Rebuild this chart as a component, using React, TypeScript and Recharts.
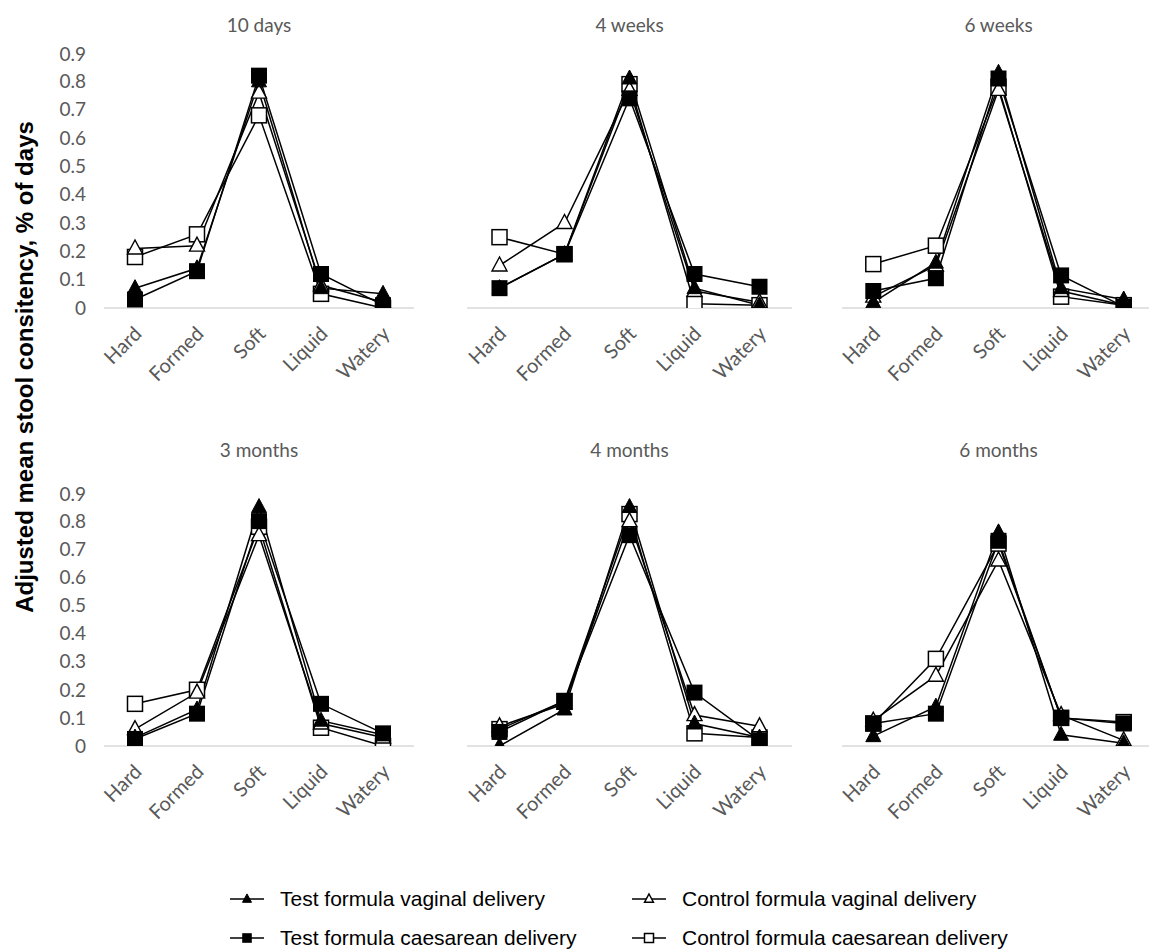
import { LineChart, Line, XAxis, YAxis } from 'recharts';

// Stool consistency categories shown on every panel
const CATEGORIES = ['Hard', 'Formed', 'Soft', 'Liquid', 'Watery'];
const PANEL_TITLES = ['10 days', '4 weeks', '6 weeks', '3 months', '4 months', '6 months'];
const Y_TICKS = [0, 0.1, 0.2, 0.3, 0.4, 0.5, 0.6, 0.7, 0.8, 0.9];

// One row per panel (same order as PANEL_TITLES), one value per category
const TEST_VAGINAL = [
  [0.07, 0.14, 0.8, 0.07, 0.05],
  [0.07, 0.19, 0.81, 0.07, 0.01],
  [0.02, 0.16, 0.83, 0.07, 0.03],
  [0.03, 0.13, 0.85, 0.09, 0.04],
  [0.0, 0.13, 0.85, 0.08, 0.03],
  [0.035, 0.14, 0.76, 0.04, 0.01],
];
const CONTROL_VAGINAL = [
  [0.21, 0.22, 0.76, 0.08, 0.02],
  [0.15, 0.3, 0.77, 0.06, 0.02],
  [0.04, 0.15, 0.77, 0.06, 0.01],
  [0.06, 0.19, 0.75, 0.08, 0.03],
  [0.07, 0.15, 0.8, 0.11, 0.07],
  [0.09, 0.25, 0.66, 0.11, 0.02],
];
const TEST_CAESAREAN = [
  [0.03, 0.13, 0.82, 0.12, 0.01],
  [0.07, 0.19, 0.74, 0.12, 0.075],
  [0.06, 0.105, 0.81, 0.115, 0.005],
  [0.025, 0.115, 0.8, 0.15, 0.045],
  [0.05, 0.16, 0.75, 0.19, 0.02],
  [0.08, 0.115, 0.73, 0.1, 0.08],
];
const CONTROL_CAESAREAN = [
  [0.18, 0.26, 0.68, 0.05, 0.0],
  [0.25, 0.19, 0.79, 0.015, 0.01],
  [0.155, 0.22, 0.78, 0.04, 0.01],
  [0.15, 0.2, 0.78, 0.065, 0.0],
  [0.06, 0.16, 0.825, 0.045, 0.03],
  [0.08, 0.31, 0.72, 0.1, 0.085],
];

const GREY = '#595959';
const TICK_FONT = 'Lato, "Open Sans", sans-serif';
const LEGEND_FONT = '"Liberation Sans", Arial, sans-serif';

// plot-area rectangles for the 2x3 grid
const COL_X = [
  { x: 104, w: 310 },
  { x: 467, w: 325 },
  { x: 842, w: 313 },
];
const ROW_Y = [
  { y: 53, h: 255, title: 25 },
  { y: 493, h: 253, title: 450 },
];

type Marker = 'triFilled' | 'triOpen' | 'sqFilled' | 'sqOpen';

function MarkerShape({ kind, cx, cy, scale = 1 }: { kind: Marker; cx: number; cy: number; scale?: number }) {
  if (cx == null || cy == null) return null;
  if (kind === 'triFilled' || kind === 'triOpen') {
    const hw = 7.5 * scale;
    const top = 8.5 * scale;
    const bot = 5.5 * scale;
    const pts = `${cx},${cy - top} ${cx - hw},${cy + bot} ${cx + hw},${cy + bot}`;
    return kind === 'triFilled' ? (
      <polygon points={pts} fill="#000" stroke="#000" strokeWidth={1} />
    ) : (
      <polygon points={pts} fill="#fff" stroke="#000" strokeWidth={1.4} strokeLinejoin="miter" />
    );
  }
  const s = (kind === 'sqFilled' ? 16 : 15) * scale;
  return kind === 'sqFilled' ? (
    <rect x={cx - s / 2} y={cy - s / 2} width={s} height={s} fill="#000" />
  ) : (
    <rect x={cx - s / 2} y={cy - s / 2} width={s} height={s} fill="#fff" stroke="#000" strokeWidth={1.5} />
  );
}

const makeDot = (kind: Marker) => (props: any) =>
  <MarkerShape key={`${kind}-${props.index}`} kind={kind} cx={props.cx} cy={props.cy} />;

function XTick(props: any) {
  const { x, y, payload } = props;
  const ax = x + 8;
  const ay = y + 27;
  return (
    <text
      x={ax}
      y={ay}
      textAnchor="end"
      fill={GREY}
      fontSize={20}
      fontFamily={TICK_FONT}
      transform={`rotate(-45, ${ax}, ${ay})`}
    >
      {payload.value}
    </text>
  );
}

// drawing order: open markers underneath, filled ones on top
const SERIES: { key: string; source: number[][]; marker: Marker }[] = [
  { key: 'cc', source: CONTROL_CAESAREAN, marker: 'sqOpen' },
  { key: 'cv', source: CONTROL_VAGINAL, marker: 'triOpen' },
  { key: 'tv', source: TEST_VAGINAL, marker: 'triFilled' },
  { key: 'tc', source: TEST_CAESAREAN, marker: 'sqFilled' },
];

function Panel({ index }: { index: number }) {
  const col = COL_X[index % 3];
  const row = ROW_Y[Math.floor(index / 3)];
  const showY = index % 3 === 0;
  const data = CATEGORIES.map((name, i) => {
    const rec: Record<string, any> = { name };
    SERIES.forEach((s) => (rec[s.key] = s.source[index][i]));
    return rec;
  });
  const yAxisW = 60;
  // half a category band on each side, like a category axis with tick marks between
  const pad = col.w / CATEGORIES.length / 2;
  return (
    <>
      <div
        style={{
          position: 'absolute',
          left: col.x + col.w / 2 - 100,
          top: row.title - 12,
          width: 200,
          textAlign: 'center',
          fontFamily: TICK_FONT,
          fontSize: 19,
          lineHeight: '24px',
          color: GREY,
        }}
      >
        {PANEL_TITLES[index]}
      </div>
      <div style={{ position: 'absolute', left: col.x - yAxisW, top: row.y - 10 }}>
        <LineChart
          width={col.w + yAxisW + 5}
          height={row.h + 10 + 90}
          data={data}
          margin={{ top: 10, right: 5, left: 0, bottom: 0 }}
        >
          <XAxis
            dataKey="name"
            height={90}
            interval={0}
            padding={{ left: pad, right: pad }}
            tickLine={false}
            tickSize={0}
            tickMargin={0}
            axisLine={{ stroke: '#d9d9d9', strokeWidth: 1.5 }}
            tick={<XTick />}
          />
          <YAxis
            width={yAxisW}
            domain={[0, 0.9]}
            ticks={Y_TICKS}
            allowDataOverflow
            axisLine={false}
            tickLine={false}
            tickSize={0}
            tickMargin={18}
            tick={showY ? { fill: GREY, fontSize: 19, fontFamily: TICK_FONT } : false}
            tickFormatter={(v: number) => String(+v.toFixed(1))}
          />
          {SERIES.map((s) => (
            <Line
              key={s.key}
              dataKey={s.key}
              type="linear"
              stroke="#000"
              strokeWidth={1.5}
              dot={makeDot(s.marker)}
              activeDot={false}
              isAnimationActive={false}
            />
          ))}
        </LineChart>
      </div>
    </>
  );
}

const LEGEND_ITEMS: { label: string; marker: Marker; x: number; y: number }[] = [
  { label: 'Test formula vaginal delivery', marker: 'triFilled', x: 230, y: 899 },
  { label: 'Control formula vaginal delivery', marker: 'triOpen', x: 632, y: 899 },
  { label: 'Test formula caesarean delivery', marker: 'sqFilled', x: 230, y: 938 },
  { label: 'Control formula caesarean delivery', marker: 'sqOpen', x: 632, y: 938 },
];

function Legend() {
  return (
    <>
      {LEGEND_ITEMS.map((it) => (
        <div
          key={it.label}
          style={{
            position: 'absolute',
            left: it.x,
            top: it.y - 14,
            height: 28,
            display: 'flex',
            alignItems: 'center',
            fontFamily: LEGEND_FONT,
            fontSize: 21,
            color: '#000',
            whiteSpace: 'nowrap',
          }}
        >
          <svg width={34} height={28} style={{ marginRight: 16 }}>
            <line x1={0} y1={14} x2={34} y2={14} stroke="#000" strokeWidth={1.5} />
            <MarkerShape kind={it.marker} cx={17} cy={14} scale={0.6} />
          </svg>
          <span>{it.label}</span>
        </div>
      ))}
    </>
  );
}

export default function App() {
  return (
    <div
      style={{
        position: 'fixed',
        left: 0,
        top: 0,
        width: 1149,
        height: 949,
        overflow: 'hidden',
        background: '#fff',
      }}
    >
      {PANEL_TITLES.map((_, i) => (
        <Panel key={i} index={i} />
      ))}
      <div
        style={{
          position: 'absolute',
          left: 25,
          top: 367,
          transform: 'translate(-50%, -50%) rotate(-90deg)',
          whiteSpace: 'nowrap',
          fontFamily: LEGEND_FONT,
          fontWeight: 'bold',
          fontSize: 24,
          color: '#000',
        }}
      >
        Adjusted mean stool consitency, % of days
      </div>
      <Legend />
    </div>
  );
}
